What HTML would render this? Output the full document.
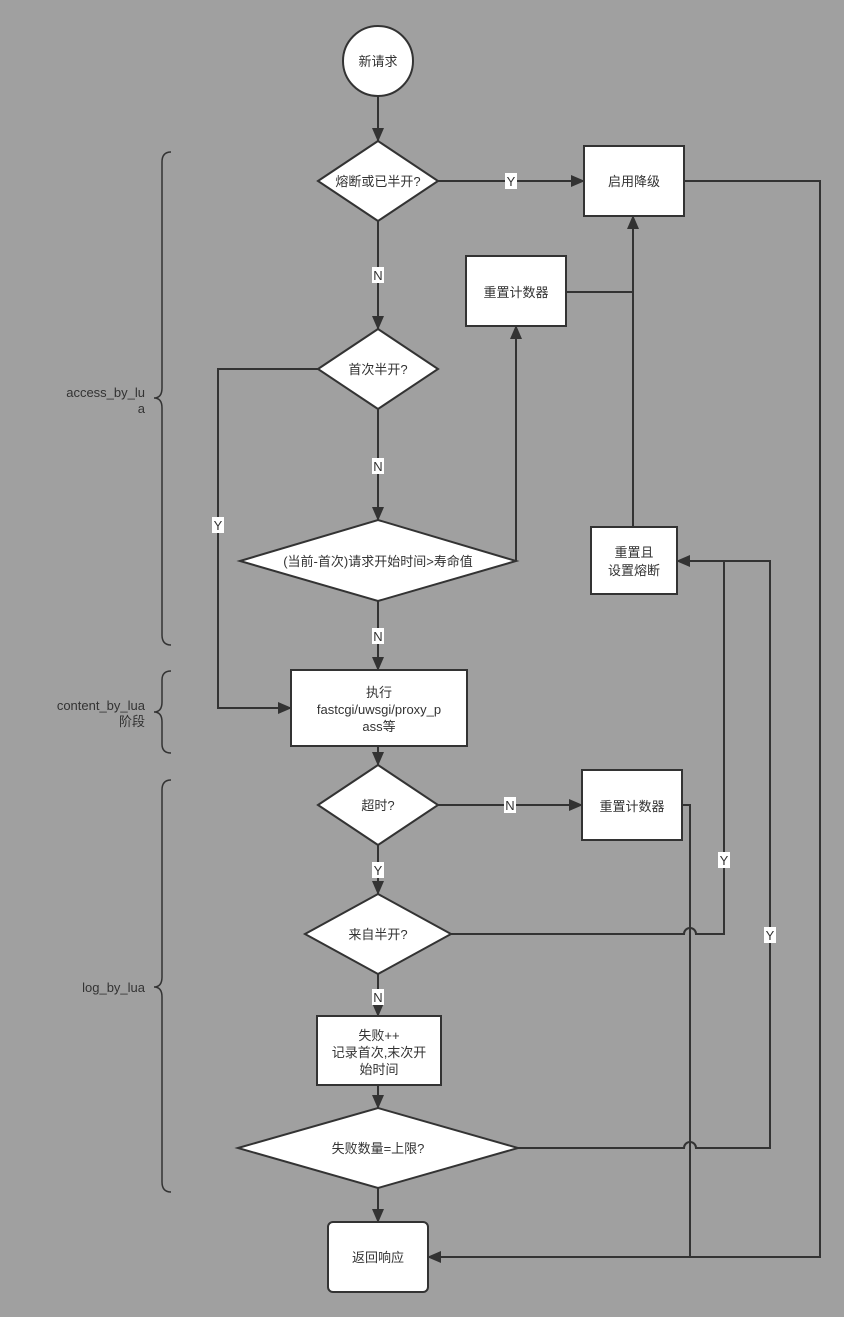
<!DOCTYPE html>
<html><head><meta charset="utf-8"><style>
html,body{margin:0;padding:0;background:#a0a0a0;}
svg{display:block;}
text{font-family:"Liberation Sans","Noto Sans CJK SC",sans-serif;font-size:13px;fill:#333;}
.s{fill:#fff;stroke:#333;stroke-width:2;}
.l{fill:none;stroke:#333;stroke-width:2;}
.lb{fill:#fff;}
</style></head><body>
<svg width="844" height="1317" viewBox="0 0 844 1317" xmlns="http://www.w3.org/2000/svg">
<defs><marker id="a" markerWidth="10" markerHeight="10" refX="9" refY="5" orient="auto" markerUnits="userSpaceOnUse"><path d="M0,0 L10,5 L0,10 z" fill="#333"/></marker>
<marker id="b" markerWidth="14" markerHeight="12" refX="13" refY="6" orient="auto" markerUnits="userSpaceOnUse"><path d="M0,0 L14,6 L0,12 z" fill="#333"/></marker></defs>
<rect width="844" height="1317" fill="#a0a0a0"/>
<!-- connectors -->
<path class="l" d="M378,96 V141" marker-end="url(#b)"/>
<path class="l" d="M438,181 H584" marker-end="url(#b)"/>
<path class="l" d="M378,221 V329" marker-end="url(#b)"/>
<path class="l" d="M378,409 V520" marker-end="url(#b)"/>
<path class="l" d="M378,601 V670" marker-end="url(#b)"/>
<path class="l" d="M318,369 H218 V708 H291" marker-end="url(#b)"/>
<path class="l" d="M516,561 V326" marker-end="url(#b)"/>
<path class="l" d="M566,292 H633"/>
<path class="l" d="M633,527 V216" marker-end="url(#b)"/>
<path class="l" d="M684,181 H820 V1257 H428" marker-end="url(#b)"/>
<path class="l" d="M378,746 V765" marker-end="url(#b)"/>
<path class="l" d="M438,805 H582" marker-end="url(#b)"/>
<path class="l" d="M682,805 H690 V1257"/>
<path class="l" d="M378,845 V894" marker-end="url(#b)"/>
<path class="l" d="M451,934 H684 A6,6 0 0 1 696,934 H724 V561 H677" marker-end="url(#b)"/>
<path class="l" d="M378,974 V1016" marker-end="url(#b)"/>
<path class="l" d="M378,1085 V1108" marker-end="url(#b)"/>
<path class="l" d="M518,1148 H684 A6,6 0 0 1 696,1148 H770 V561 H724"/>
<path class="l" d="M378,1188 V1222" marker-end="url(#b)"/>
<!-- labels on lines -->
<rect class="lb" x="505" y="173" width="12" height="16"/><text x="511" y="186" text-anchor="middle">Y</text>
<rect class="lb" x="372" y="267" width="12" height="16"/><text x="378" y="280" text-anchor="middle">N</text>
<rect class="lb" x="372" y="458" width="12" height="16"/><text x="378" y="471" text-anchor="middle">N</text>
<rect class="lb" x="372" y="628" width="12" height="16"/><text x="378" y="641" text-anchor="middle">N</text>
<rect class="lb" x="212" y="517" width="12" height="16"/><text x="218" y="530" text-anchor="middle">Y</text>
<rect class="lb" x="504" y="797" width="12" height="16"/><text x="510" y="810" text-anchor="middle">N</text>
<rect class="lb" x="372" y="862" width="12" height="16"/><text x="378" y="875" text-anchor="middle">Y</text>
<rect class="lb" x="372" y="989" width="12" height="16"/><text x="378" y="1002" text-anchor="middle">N</text>
<rect class="lb" x="718" y="852" width="12" height="16"/><text x="724" y="865" text-anchor="middle">Y</text>
<rect class="lb" x="764" y="927" width="12" height="16"/><text x="770" y="940" text-anchor="middle">Y</text>
<!-- shapes -->
<circle class="s" cx="378" cy="61" r="35"/><text x="378" y="66" text-anchor="middle">新请求</text>
<path class="s" d="M318,181 L378,141 L438,181 L378,221 Z"/><text x="378" y="186" text-anchor="middle">熔断或已半开?</text>
<rect class="s" x="584" y="146" width="100" height="70"/><text x="634" y="186" text-anchor="middle">启用降级</text>
<rect class="s" x="466" y="256" width="100" height="70"/><text x="516" y="297" text-anchor="middle">重置计数器</text>
<path class="s" d="M318,369 L378,329 L438,369 L378,409 Z"/><text x="378" y="374" text-anchor="middle">首次半开?</text>
<path class="s" d="M240,561 L378,520 L516,561 L378,601 Z"/><text x="378" y="566" text-anchor="middle">(当前-首次)请求开始时间&gt;寿命值</text>
<rect class="s" x="591" y="527" width="86" height="67"/><text x="634" y="557" text-anchor="middle">重置且</text><text x="634" y="575" text-anchor="middle">设置熔断</text>
<rect class="s" x="291" y="670" width="176" height="76"/><text x="379" y="697" text-anchor="middle">执行</text><text x="379" y="714" text-anchor="middle">fastcgi/uwsgi/proxy_p</text><text x="379" y="731" text-anchor="middle">ass等</text>
<path class="s" d="M318,805 L378,765 L438,805 L378,845 Z"/><text x="378" y="810" text-anchor="middle">超时?</text>
<rect class="s" x="582" y="770" width="100" height="70"/><text x="632" y="811" text-anchor="middle">重置计数器</text>
<path class="s" d="M305,934 L378,894 L451,934 L378,974 Z"/><text x="378" y="939" text-anchor="middle">来自半开?</text>
<rect class="s" x="317" y="1016" width="124" height="69"/><text x="379" y="1040" text-anchor="middle">失败++</text><text x="379" y="1057" text-anchor="middle">记录首次,末次开</text><text x="379" y="1074" text-anchor="middle">始时间</text>
<path class="s" d="M238,1148 L378,1108 L518,1148 L378,1188 Z"/><text x="378" y="1153" text-anchor="middle">失败数量=上限?</text>
<rect class="s" x="328" y="1222" width="100" height="70" rx="5"/><text x="378" y="1262" text-anchor="middle">返回响应</text>
<!-- braces -->
<path class="l" style="stroke-width:1.5" d="M171,152 Q162,152 162,162 V388 Q162,398 154,398 Q162,398 162,408 V635 Q162,645 171,645"/>
<text x="145" y="397" text-anchor="end">access_by_lu</text><text x="145" y="413" text-anchor="end">a</text>
<path class="l" style="stroke-width:1.5" d="M171,671 Q162,671 162,680 V702 Q162,712 154,712 Q162,712 162,722 V744 Q162,753 171,753"/>
<text x="145" y="710" text-anchor="end">content_by_lua</text><text x="145" y="726" text-anchor="end">阶段</text>
<path class="l" style="stroke-width:1.5" d="M171,780 Q162,780 162,790 V977 Q162,987 154,987 Q162,987 162,997 V1182 Q162,1192 171,1192"/>
<text x="145" y="992" text-anchor="end">log_by_lua</text>
</svg>
</body></html>
